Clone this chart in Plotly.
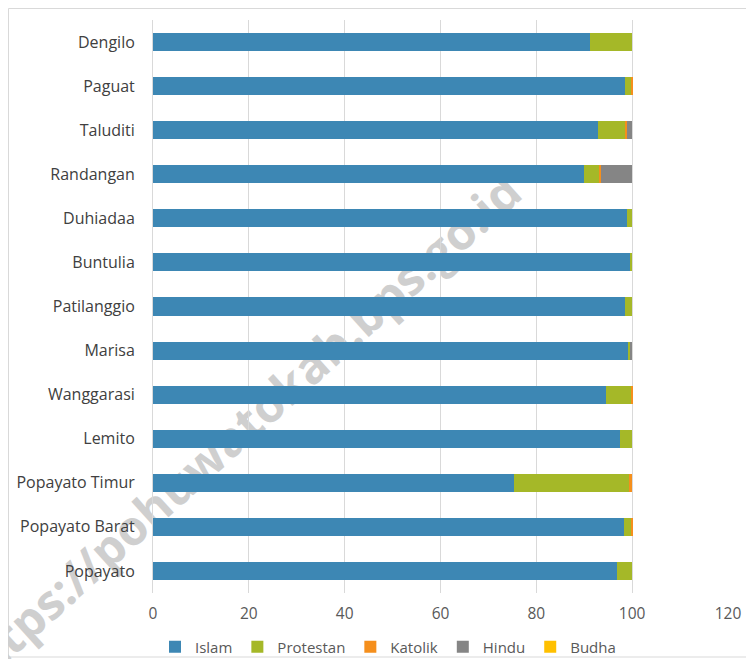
import plotly.graph_objects as go

categories = ["Popayato", "Popayato Barat", "Popayato Timur", "Lemito", "Wanggarasi",
              "Marisa", "Patilanggio", "Buntulia", "Duhiadaa", "Randangan",
              "Taluditi", "Paguat", "Dengilo"]
islam     = [96.8, 98.3, 75.4, 97.4, 94.6, 99.2, 98.4, 99.7, 98.9, 90.0, 92.8, 98.6, 91.2]
protestan = [3.2, 1.5, 24.0, 2.6, 5.2, 0.5, 1.6, 0.3, 1.1, 3.0, 5.8, 1.2, 8.8]
katolik   = [0.0, 0.2, 0.6, 0.0, 0.2, 0.0, 0.0, 0.0, 0.0, 0.5, 0.3, 0.2, 0.0]
hindu     = [0.0, 0.0, 0.0, 0.0, 0.0, 0.3, 0.0, 0.0, 0.0, 6.5, 1.1, 0.0, 0.0]
budha     = [0.0, 0.0, 0.0, 0.0, 0.0, 0.0, 0.0, 0.0, 0.0, 0.0, 0.0, 0.0, 0.0]
x_ticks = [0, 20, 40, 60, 80, 100, 120]
watermark = "https://pohuwatokab.bps.go.id"

series = [("Islam", islam, "#3d87b4"), ("Protestan", protestan, "#a5b828"),
          ("Katolik", katolik, "#f58f1c"), ("Hindu", hindu, "#858585"),
          ("Budha", budha, "#ffc000")]

fig = go.Figure()
for name, vals, col in series:
    fig.add_trace(go.Bar(y=categories, x=vals, name=name, orientation="h",
                         marker=dict(color=col, line=dict(width=0))))

FONT = "Open Sans, Noto Sans, sans-serif"
# plot box in page pixels: left 153, top 20, width 575, height 573 (page body offset 8px)
def px(x):
    return (x - 153) / 575

def py(y):
    return (593 - y) / 573

fig.update_layout(
    barmode="stack", bargap=0.59,
    width=746, height=651,
    margin=dict(l=145, r=26, t=12, b=66, autoexpand=False),
    paper_bgcolor="white", plot_bgcolor="rgba(0,0,0,0)",
    font=dict(family=FONT, size=15, color="#595959"),
    xaxis=dict(range=[0, 120], tickvals=x_ticks, showgrid=True, gridcolor="#d9d9d9",
               gridwidth=1, zeroline=False, showline=False, ticks="",
               ticklabelstandoff=9, automargin=False,
               tickfont=dict(size=15.5, color="#595959")),
    yaxis=dict(showgrid=False, showline=True, linecolor="#d9d9d9", linewidth=1,
               ticks="", ticklen=0, ticklabelstandoff=14, automargin=False,
               tickfont=dict(size=16, color="#404040"),
               categoryorder="array", categoryarray=categories),
    legend=dict(orientation="h", xref="container", yref="container",
                x=(388 - 8) / 746, xanchor="center",
                y=(659 - 647) / 651, yanchor="middle",
                bgcolor="rgba(0,0,0,0)",
                font=dict(size=15, color="#595959"), traceorder="normal",
                itemwidth=30),
    shapes=[
        dict(type="rect", xref="paper", yref="paper",
             x0=px(8.5), x1=px(752), y0=py(657), y1=py(8.5),
             line=dict(color="#d9d9d9", width=1), fillcolor="rgba(0,0,0,0)",
             layer="below"),
        dict(type="rect", xref="paper", yref="paper",
             x0=px(189), x1=px(289), y0=py(483), y1=py(383),
             line=dict(width=0), fillcolor="rgba(0,0,0,0)", layer="below",
             label=dict(text="<b>" + watermark + "</b>", textangle=-42,
                        textposition="middle center", padding=0,
                        font=dict(size=48, color="#cfcfcf", family=FONT))),
    ],
)

fig.write_html("out.html")
